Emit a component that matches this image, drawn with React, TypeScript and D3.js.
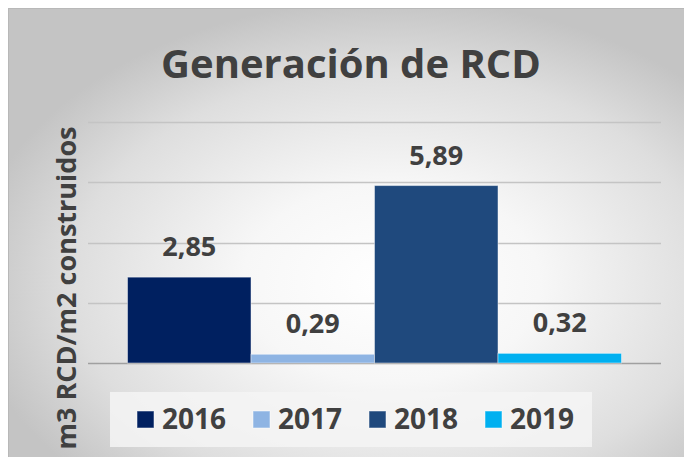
import React from 'react';
import * as d3 from 'd3';

const years = ['2016', '2017', '2018', '2019'];
const values = [2.85, 0.29, 5.89, 0.32];
const labels = ['2,85', '0,29', '5,89', '0,32'];
const colors = ['#002060', '#8EB4E3', '#1F497D', '#00B0F0'];
const yTicks = [0, 2, 4, 6, 8];

const W = 684;
const H = 457;
const plot = { left: 88, right: 661, top: 122, bottom: 363 };
const font = "'Open Sans', 'Noto Sans', sans-serif";

export default function App() {
  const x = d3.scaleBand<string>()
    .domain(years)
    .range([plot.left, plot.right])
    .paddingInner(0)
    .paddingOuter(0.32);

  const y = d3.scaleLinear()
    .domain([0, 8])
    .range([plot.bottom, plot.top]);

  const legendX = d3.scalePoint<string>()
    .domain(years)
    .range([137, 485]);

  return (
    <svg width={W} height={H} style={{ position: 'absolute', left: 0, top: 0 }} fontFamily={font}>
      <defs>
        <radialGradient id="bg" cx="0.56" cy="0.6" r="0.62">
          <stop offset="0" stopColor="#ffffff" />
          <stop offset="0.35" stopColor="#f7f7f7" />
          <stop offset="0.75" stopColor="#dedede" />
          <stop offset="1" stopColor="#c4c4c4" />
        </radialGradient>
      </defs>
      <rect x={0} y={0} width={W} height={H} fill="#ffffff" />
      <rect x={8.5} y={8.5} width={W} height={H} fill="url(#bg)" stroke="#b8b8b8" strokeWidth={1} />

      <text x={351} y={78} textAnchor="middle" fontSize={40} fontWeight={700} fill="#404040">
        Generación de RCD
      </text>

      <text
        transform="translate(76,288) rotate(-90)"
        textAnchor="middle"
        fontSize={27}
        fontWeight={700}
        fill="#404040"
      >
        m3 RCD/m2 construidos
      </text>

      {yTicks.map(t => (
        <line
          key={t}
          x1={plot.left}
          x2={plot.right}
          y1={Math.round(y(t)) + 0.5}
          y2={Math.round(y(t)) + 0.5}
          stroke={t === 0 ? '#a0a0a0' : '#c4c4c4'}
          strokeWidth={1.5}
        />
      ))}

      {years.map((yr, i) => (
        <rect
          key={yr}
          x={x(yr)}
          y={y(values[i])}
          width={x.bandwidth()}
          height={y(0) - y(values[i])}
          fill={colors[i]}
          stroke="#ffffff"
          strokeOpacity={0.45}
          strokeWidth={1}
        />
      ))}

      {years.map((yr, i) => (
        <text
          key={yr}
          x={(x(yr) ?? 0) + x.bandwidth() / 2}
          y={y(values[i]) - 21}
          textAnchor="middle"
          fontSize={27}
          fontWeight={700}
          fill="#404040"
        >
          {labels[i]}
        </text>
      ))}

      <rect x={110} y={392} width={482} height={55} fill="#f4f4f4" fillOpacity={0.85} />
      {years.map((yr, i) => (
        <g key={yr} transform={`translate(${legendX(yr)},411)`}>
          <rect x={0} y={0} width={17} height={17} fill={colors[i]} stroke="#ffffff" strokeOpacity={0.5} />
          <text x={25} y={18} fontSize={28} fontWeight={700} fill="#404040">
            {yr}
          </text>
        </g>
      ))}
    </svg>
  );
}
